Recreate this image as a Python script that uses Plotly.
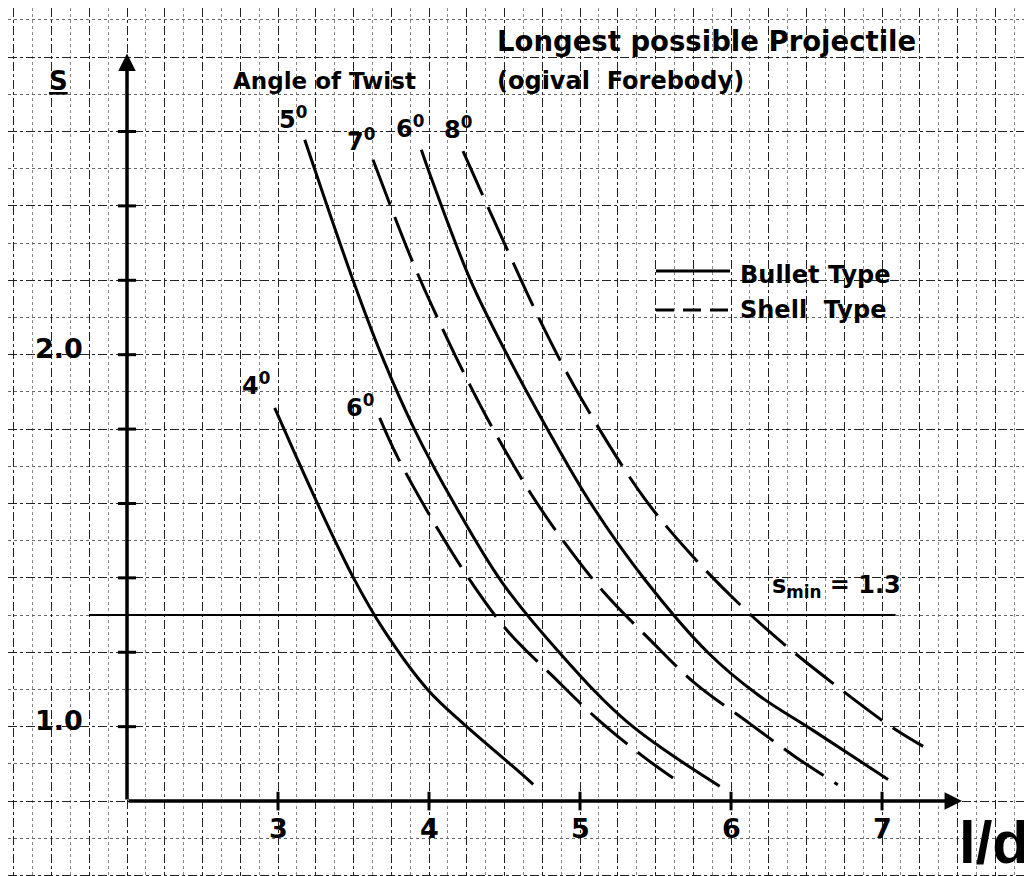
import plotly.graph_objects as go

# ---------------- data ----------------
# l/d values and s values of each "angle of twist" curve
bullet_4_x = [2.978, 3.265, 3.50, 3.70, 3.99, 4.25, 4.55, 4.69]
bullet_4_s = [1.857, 1.597, 1.40, 1.26, 1.10, 1.00, 0.895, 0.845]

bullet_5_x = [3.177, 3.497, 3.684, 3.905, 4.170, 4.48, 4.866, 5.32, 5.925]
bullet_5_s = [2.578, 2.200, 2.000, 1.798, 1.597, 1.39, 1.198, 1.01, 0.84]

bullet_6_x = [3.949, 4.015, 4.275, 4.517, 4.777, 5.064, 5.43, 5.85, 6.18, 6.543, 7.04]
bullet_6_s = [2.551, 2.475, 2.200, 2.000, 1.805, 1.605, 1.395, 1.198, 1.085, 0.99, 0.858]

shell_6_x = [3.673, 3.795, 4.060, 4.291, 4.523, 4.821, 5.108, 5.417, 5.616]
shell_6_s = [1.830, 1.722, 1.530, 1.382, 1.256, 1.135, 1.023, 0.920, 0.862]

shell_7_x = [3.629, 3.894, 4.093, 4.270, 4.457, 4.678, 4.899, 5.152, 5.472, 5.760, 6.101, 6.422, 6.707]
shell_7_s = [2.524, 2.247, 2.067, 1.919, 1.776, 1.624, 1.494, 1.364, 1.230, 1.117, 1.015, 0.920, 0.844]

shell_8_x = [4.225, 4.523, 4.744, 4.987, 5.417, 5.737, 6.046, 6.356, 6.731, 7.060, 7.272]
shell_8_s = [2.547, 2.278, 2.085, 1.897, 1.619, 1.462, 1.333, 1.220, 1.099, 1.000, 0.947]

curve_labels = ["4", "5", "6", "6", "7", "8"]

s_min = 1.3
s_min_x_range = [1.75, 7.09]

x_tick_values = [3, 4, 5, 6, 7]
x_tick_labels = ["3", "4", "5", "6", "7"]
y_tick_marks = [1.0, 1.2, 1.4, 1.6, 1.8, 2.0, 2.2, 2.4, 2.6]
y_tick_values = [1.0, 2.0]
y_tick_labels = ["1.0", "2.0"]

x_origin = 2.0
s_origin = 0.8
x_axis_end = 7.53
s_axis_end = 2.81

# ---------------- figure ----------------
W, H = 1032, 876
X_RANGE = [1.212, 8.046]
Y_RANGE = [0.577, 2.932]
FONT = "DejaVu Sans"

def px(x):
    return x / W

def py(y):
    return 1 - y / H

fig = go.Figure()

curves = [
    (bullet_4_x, bullet_4_s, "solid", curve_labels[0], -19, 6),
    (bullet_5_x, bullet_5_s, "solid", curve_labels[1], -12, 4),
    (bullet_6_x, bullet_6_s, "solid", curve_labels[2], -11, 5),
    (shell_6_x, shell_6_s, "48px,13px", curve_labels[3], -20, -6),
    (shell_7_x, shell_7_s, "48px,13px", curve_labels[4], -12, 2),
    (shell_8_x, shell_8_s, "48px,13px", curve_labels[5], -5, 5),
]

for xs, ss, dash, lab, dx, dy in curves:
    fig.add_trace(go.Scatter(
        x=xs, y=ss, mode="lines",
        line=dict(color="black", width=3, dash=dash, shape="spline", smoothing=1.0),
        showlegend=False, hoverinfo="skip"))
    fig.add_annotation(
        x=xs[0], y=ss[0], xref="x", yref="y",
        text=f"<b>{lab}<sup>0</sup></b>", showarrow=False,
        xanchor="center", yanchor="bottom", xshift=dx, yshift=dy,
        font=dict(family=FONT, size=24, color="black"))

# s_min line
fig.add_trace(go.Scatter(
    x=s_min_x_range, y=[s_min, s_min], mode="lines",
    line=dict(color="black", width=2), showlegend=False, hoverinfo="skip"))

# axes with arrows
fig.add_annotation(x=x_origin, y=s_axis_end, ax=x_origin, ay=s_origin,
                   xref="x", yref="y", axref="x", ayref="y", text="",
                   showarrow=True, arrowhead=2, arrowsize=1, arrowwidth=3.5,
                   arrowcolor="black", standoff=0, startstandoff=0)
fig.add_annotation(x=x_axis_end, y=s_origin, ax=x_origin, ay=s_origin,
                   xref="x", yref="y", axref="x", ayref="y", text="",
                   showarrow=True, arrowhead=2, arrowsize=1, arrowwidth=3.5,
                   arrowcolor="black", standoff=0, startstandoff=0)

shapes = []
for v in y_tick_marks:
    shapes.append(dict(type="line", xref="x", yref="y", x0=x_origin - 0.06, x1=x_origin + 0.06,
                       y0=v, y1=v, line=dict(color="black", width=3)))
for v in x_tick_values:
    shapes.append(dict(type="line", xref="x", yref="y", x0=v, x1=v,
                       y0=s_origin - 0.025, y1=s_origin + 0.025, line=dict(color="black", width=3)))

# legend samples
shapes.append(dict(type="line", xref="paper", yref="paper", x0=px(648), x1=px(722),
                   y0=py(263), y1=py(263), line=dict(color="black", width=3)))
shapes.append(dict(type="line", xref="paper", yref="paper", x0=px(648), x1=px(722),
                   y0=py(302), y1=py(302), line=dict(color="black", width=3, dash="18px,9px")))
fig.update_layout(shapes=shapes)

# tick labels
for v, t in zip(x_tick_values, x_tick_labels):
    fig.add_annotation(x=v, y=s_origin, xref="x", yref="y", text=f"<b>{t}</b>",
                       showarrow=False, yanchor="top", yshift=-10,
                       font=dict(family=FONT, size=27, color="black"))
for v, t in zip(y_tick_values, y_tick_labels):
    fig.add_annotation(x=x_origin, y=v, xref="x", yref="y", text=f"<b>{t}</b>",
                       showarrow=False, xanchor="right", xshift=-42, yshift=6,
                       font=dict(family=FONT, size=27, color="black"))

texts = [
    ("<b><u>S</u></b>", 50, 73, "center", 26, FONT),
    ("<b>Angle of Twist</b>", 316, 73, "center", 23, FONT),
    ("<b>Longest possible Projectile</b>", 487, 33, "left", 27.5, FONT),
    ("<b>(ogival  Forebody)</b>", 487, 73, "left", 24, FONT),
    ("<b>Bullet Type</b>", 730, 267, "left", 24, FONT),
    ("<b>Shell  Type</b>", 730, 302, "left", 24, FONT),
    ("<b>s<sub>min</sub> = 1.3</b>", 828, 578, "center", 24, FONT),
    ("<b>l/d</b>", 986, 834, "center", 60, "Liberation Sans Narrow, Liberation Sans"),
]
for t, x, y, anchor, size, fam in texts:
    fig.add_annotation(x=px(x), y=py(y), xref="paper", yref="paper", text=t,
                       showarrow=False, xanchor=anchor, yanchor="middle",
                       font=dict(family=fam, size=size, color="black"))

grid_x = dict(showgrid=True, gridcolor="#222", gridwidth=1, griddash="dashdot",
              tick0=0, dtick=0.25, range=X_RANGE, showticklabels=False,
              zeroline=False, showline=False, ticks="",
              minor=dict(showgrid=True, dtick=0.125, gridcolor="#888", griddash="dot", gridwidth=1))
grid_y = dict(showgrid=True, gridcolor="#222", gridwidth=1, griddash="dashdot",
              tick0=0, dtick=0.2, range=Y_RANGE, showticklabels=False,
              zeroline=False, showline=False, ticks="",
              minor=dict(showgrid=True, dtick=0.1, gridcolor="#666", griddash="dot", gridwidth=1))

fig.update_layout(
    width=W, height=H,
    margin=dict(l=0, r=0, t=0, b=0),
    paper_bgcolor="white", plot_bgcolor="white",
    xaxis=grid_x, yaxis=grid_y,
    showlegend=False,
)

fig.write_html("out.html")
